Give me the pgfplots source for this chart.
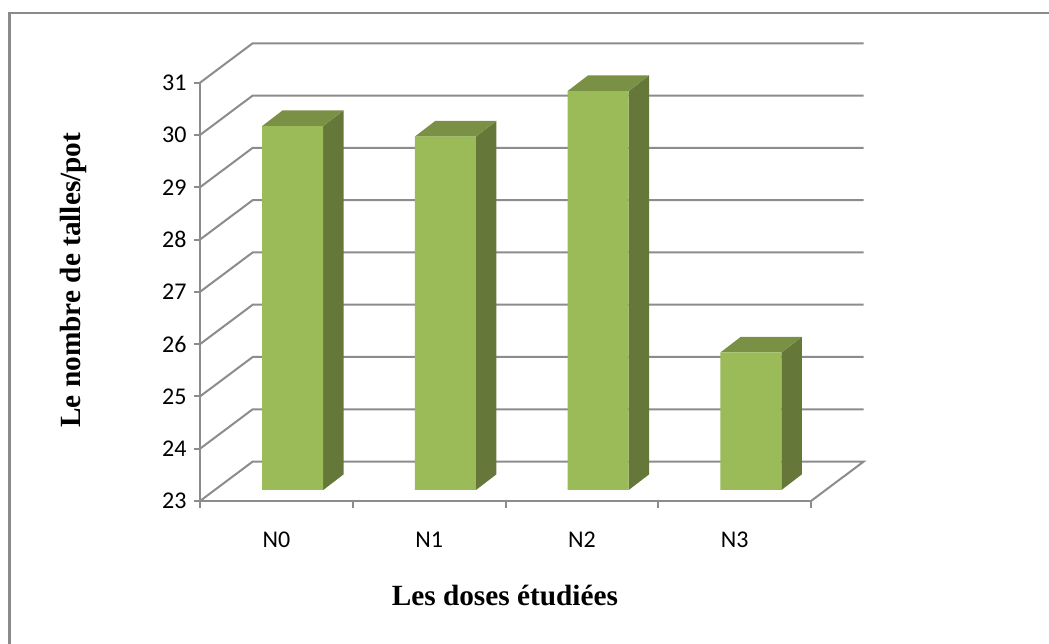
\documentclass[border=0pt]{standalone}
\usepackage{fontspec}
\setmainfont{Carlito}
\newfontfamily\tnr{Liberation Serif}
\usepackage{pgfplots}
\pgfplotsset{compat=1.18}
\definecolor{axgray}{HTML}{8C8C8C}
\definecolor{barfront}{HTML}{9BBB59}
\definecolor{barside}{HTML}{65783A}
\definecolor{bartop}{HTML}{7A9145}
\definecolor{framegray}{HTML}{8A8A8A}
\pgfplotsset{
  side/.style={fill=barside,draw=none,forget plot,xshift=16.3pt,yshift=11pt},
  topf/.style={fill=bartop,draw=none,forget plot,xshift=16.3pt,yshift=11pt},
}
\begin{document}
\begin{tikzpicture}[x=1pt,y=1pt]
\useasboundingbox (0,0) rectangle (1049,644);
\fill[white] (0,0) rectangle (1049,644);
\draw[framegray,line width=2pt] (1049,630.7) -- (9.5,630.7);
\draw[framegray,line width=3pt] (9.5,632) -- (9.5,0);
\begin{axis}[
  at={(200pt,143pt)}, anchor=origin, scale only axis,
  width=611pt, height=418.3pt,
  xmin=0, xmax=4, ymin=23, ymax=31,
  clip=false,
  unbounded coords=jump,
  axis x line*=bottom, axis y line*=left,
  axis line style={axgray,line width=2pt,-},
  tick style={axgray,line width=2pt},
  tick align=outside,
  xtick={0.5,1.5,2.5,3.5},
  xticklabels={N0,N1,N2,N3},
  minor xtick={0,1,2,3,4},
  major x tick style={draw=none},
  minor tick length=7pt,
  ytick={23,24,25,26,27,28,29,30,31},
  major tick length=6pt,
  /pgf/number format/assume math mode=true,
  ticklabel style={font=\fontsize{24}{26}\selectfont,text=black},
  xticklabel style={yshift=-21pt,text height=16pt,text depth=0pt},
  yticklabel style={xshift=-4pt},
  xlabel={Les doses étudiées},
  ylabel={Le nombre de talles/pot},
  label style={font=\tnr\bfseries\fontsize{29.3}{32}\selectfont,text=black},
  xlabel style={at={(axis description cs:0.499,-0.227)},anchor=center},
  ylabel style={at={(axis description cs:-0.207,0.528)},anchor=center},
]
% walls and floor gridlines
\addplot[axgray,line width=2pt,forget plot] coordinates {
 (4,23) (4.345,23.754) (0.345,23.754) (0,23) (0,nan)
 (0,24) (0.345,24.754) (4.345,24.754) (0,nan)
 (0,25) (0.345,25.754) (4.345,25.754) (0,nan)
 (0,26) (0.345,26.754) (4.345,26.754) (0,nan)
 (0,27) (0.345,27.754) (4.345,27.754) (0,nan)
 (0,28) (0.345,28.754) (4.345,28.754) (0,nan)
 (0,29) (0.345,29.754) (4.345,29.754) (0,nan)
 (0,30) (0.345,30.754) (4.345,30.754) (0,nan)
 (0,31) (0.345,31.754) (4.345,31.754)
};
% side faces
\addplot[side] coordinates {(0.7,23) (0.833,23.298) (0.833,30.258) (0.7,29.96)};
\addplot[side] coordinates {(1.7,23) (1.833,23.298) (1.833,30.058) (1.7,29.76)};
\addplot[side] coordinates {(2.7,23) (2.833,23.298) (2.833,30.928) (2.7,30.63)};
\addplot[side] coordinates {(3.7,23) (3.833,23.298) (3.833,25.928) (3.7,25.63)};
% top faces
\addplot[topf] coordinates {(0.3,29.96) (0.433,30.258) (0.833,30.258) (0.7,29.96)};
\addplot[topf] coordinates {(1.3,29.76) (1.433,30.058) (1.833,30.058) (1.7,29.76)};
\addplot[topf] coordinates {(2.3,30.63) (2.433,30.928) (2.833,30.928) (2.7,30.63)};
\addplot[topf] coordinates {(3.3,25.63) (3.433,25.928) (3.833,25.928) (3.7,25.63)};
% front faces
\addplot[ybar,bar width=61pt,bar shift=16.3pt,yshift=11pt,fill=barfront,draw=none,forget plot]
 coordinates {(0.5,29.96) (1.5,29.76) (2.5,30.63) (3.5,25.63)};
\end{axis}
\end{tikzpicture}
\end{document}
